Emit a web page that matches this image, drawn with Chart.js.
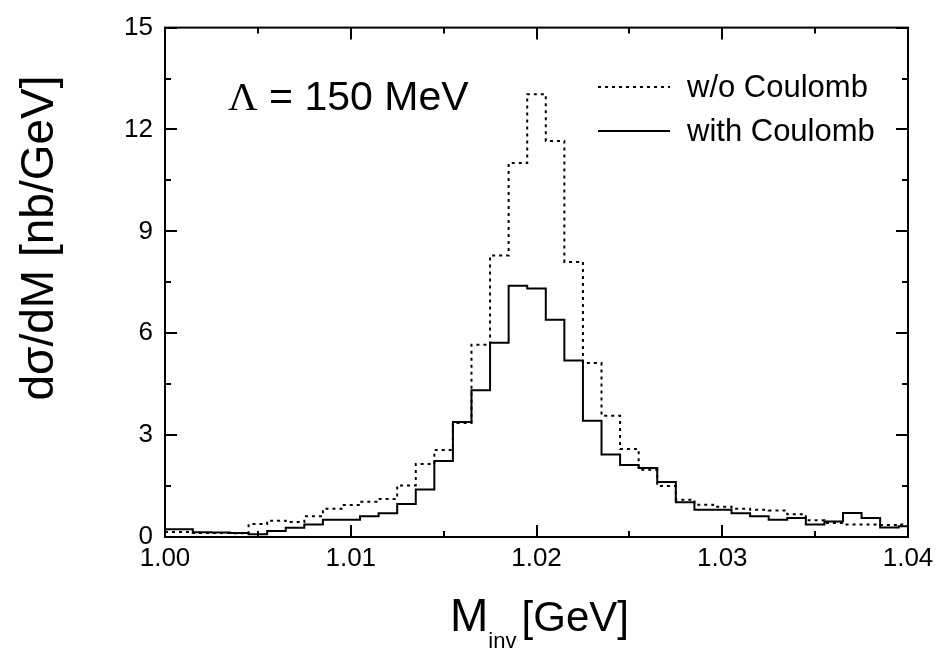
<!DOCTYPE html>
<html>
<head>
<meta charset="utf-8">
<script src="https://cdn.jsdelivr.net/npm/chart.js@4"></script>
<style>
  html,body{margin:0;padding:0;background:#fff;}
  #wrap{width:941px;height:653px;}
</style>
</head>
<body>
<div id="wrap"><canvas id="chart" width="941" height="653"></canvas></div>
<script>
// bin centres (GeV), 1 MeV bins
const masses = [1.000,1.001,1.002,1.003,1.004,1.005,1.006,1.007,1.008,1.009,
                1.010,1.011,1.012,1.013,1.014,1.015,1.016,1.017,1.018,1.019,
                1.020,1.021,1.022,1.023,1.024,1.025,1.026,1.027,1.028,1.029,
                1.030,1.031,1.032,1.033,1.034,1.035,1.036,1.037,1.038,1.039,1.040];
// dsigma/dM [nb/GeV]
const withoutCoulomb = [0.15,0.15,0.12,0.12,0.11,0.38,0.48,0.44,0.61,0.83,
                        0.94,1.04,1.12,1.52,2.15,2.56,3.36,5.66,8.29,11.01,
                        13.04,11.66,8.10,5.12,3.57,2.59,1.98,1.50,1.10,0.95,
                        0.89,0.83,0.80,0.78,0.67,0.49,0.41,0.37,0.37,0.35,0.37];
const withCoulomb = [0.23,0.23,0.14,0.13,0.12,0.08,0.18,0.27,0.37,0.51,
                     0.51,0.61,0.70,0.97,1.40,2.24,3.39,4.32,5.72,7.40,
                     7.32,6.40,5.20,3.42,2.43,2.12,2.03,1.62,1.02,0.80,
                     0.80,0.70,0.61,0.51,0.56,0.37,0.46,0.71,0.56,0.28,0.32];
const xTickValues = [1.00,1.01,1.02,1.03,1.04];
const yTickValues = [0,3,6,9,12,15];
const seriesLabels = ['w/o Coulomb','with Coulomb'];

const FONT = '"Liberation Sans", Arial, sans-serif';

function pts(vals){ return masses.map((m,i)=>({x:m,y:vals[i]})); }

const decor = {
  id:'decor',
  afterDraw(chart){
    const {ctx, chartArea:a, scales:{x,y}} = chart;
    ctx.save();
    ctx.strokeStyle='#000'; ctx.lineWidth=2; ctx.setLineDash([]);
    ctx.strokeRect(a.left,a.top,a.right-a.left,a.bottom-a.top);
    // inward ticks on all four sides
    ctx.beginPath();
    for(let v=0; v<=15.001; v+=1.5){
      const p=Math.round(y.getPixelForValue(v));
      const len = (Math.abs(v/3-Math.round(v/3))<1e-6)?12:6;
      ctx.moveTo(a.left,p); ctx.lineTo(a.left+len,p);
      ctx.moveTo(a.right,p); ctx.lineTo(a.right-len,p);
    }
    for(let k=0; k<=8; k++){
      const v=1.0+k*0.005;
      const p=Math.round(x.getPixelForValue(v));
      const len = (k%2===0)?12:6;
      ctx.moveTo(p,a.bottom); ctx.lineTo(p,a.bottom-len);
      ctx.moveTo(p,a.top); ctx.lineTo(p,a.top+len);
    }
    ctx.stroke();

    // legend
    const ds = chart.data.datasets;
    const rows=[87,131];
    ds.forEach((d,i)=>{
      ctx.beginPath();
      ctx.lineWidth=2;
      ctx.setLineDash(d.borderDash||[]);
      ctx.moveTo(598,rows[i]); ctx.lineTo(670,rows[i]);
      ctx.stroke();
      ctx.setLineDash([]);
      ctx.fillStyle='#000';
      ctx.font='31px '+FONT;
      ctx.textBaseline='middle'; ctx.textAlign='left';
      ctx.fillText(d.label,687,rows[i]+1);
    });

    // Lambda annotation
    ctx.textBaseline='alphabetic';
    ctx.font='41px "Liberation Serif", serif';
    ctx.fillText('\u039B',228,110);
    const lw=ctx.measureText('\u039B').width;
    ctx.font='41px '+FONT;
    ctx.fillText(' = 150 MeV',228+lw,110);

    // x title with subscript
    ctx.font='46px '+FONT;
    ctx.fillText('M',450,631);
    const cx=450+ctx.measureText('M').width;
    ctx.font='22px '+FONT;
    ctx.fillText('inv',cx,648);
    ctx.font='42px '+FONT;
    ctx.textAlign='right';
    ctx.fillText('[GeV]',629,631);

    // y title
    ctx.translate(53,238);
    ctx.rotate(-Math.PI/2);
    ctx.textAlign='center';
    ctx.font='46px '+FONT;
    ctx.fillText('d\u03C3/dM [nb/GeV]',0,0);
    ctx.restore();
  }
};

const chart = new Chart(document.getElementById('chart').getContext('2d'),{
  type:'line',
  data:{
    datasets:[
      {label:seriesLabels[0],data:pts(withoutCoulomb),borderColor:'#000',borderWidth:2,
       borderDash:[3,4],stepped:'middle',pointRadius:0,fill:false},
      {label:seriesLabels[1],data:pts(withCoulomb),borderColor:'#000',borderWidth:2,
       stepped:'middle',pointRadius:0,fill:false}
    ]
  },
  options:{
    responsive:false,
    animation:false,
    events:[],
    layout:{padding:{top:17,right:33,left:0,bottom:0}},
    plugins:{legend:{display:false},tooltip:{enabled:false}},
    scales:{
      x:{
        type:'linear',min:1.0,max:1.04,
        afterBuildTicks:s=>{s.ticks=xTickValues.map(v=>({value:v}));},
        afterFit:s=>{s.height=116;},
        grid:{display:false,drawTicks:false},
        border:{display:false},
        ticks:{color:'#000',padding:6,font:{family:FONT,size:26},
               callback:v=>v.toFixed(2),maxRotation:0}
      },
      y:{
        type:'linear',min:0,max:15,
        afterBuildTicks:s=>{s.ticks=yTickValues.map(v=>({value:v}));},
        afterFit:s=>{s.width=165;},
        grid:{display:false,drawTicks:false},
        border:{display:false},
        ticks:{color:'#000',padding:12,font:{family:FONT,size:26}}
      }
    }
  },
  plugins:[decor]
});
</script>
</body>
</html>
